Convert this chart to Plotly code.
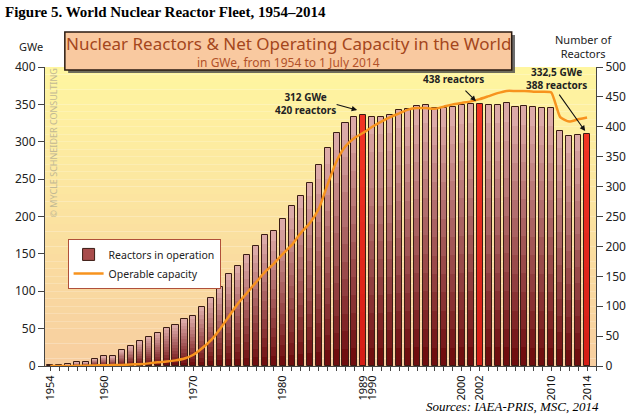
import plotly.graph_objects as go

years = list(range(1954, 2015))
reactors = [1, 2, 3, 6, 7, 12, 16, 16, 26, 33, 41, 48, 55, 64, 69, 78, 84, 99, 113, 132,
            154, 168, 186, 200, 219, 225, 245, 267, 284, 306, 336, 364, 389, 407, 416, 420,
            417, 417, 419, 428, 430, 434, 437, 431, 431, 433, 436, 438, 438, 437, 437, 439,
            433, 434, 433, 432, 432, 393, 384, 387, 388]
capacity = [0.005, 0.01, 0.06, 0.2, 0.5, 0.8, 1.0, 1.2, 1.5, 2.0, 2.5, 3.5, 5, 6, 7.5, 10,
            15, 24, 35, 50, 67, 84, 98, 112, 126, 137, 150, 162, 178, 191, 210, 243, 274,
            294, 305, 312, 320, 327, 333, 338, 343, 345, 345, 344, 347, 350, 352, 354, 357,
            361, 365, 368, 368, 368, 367, 367, 366, 333, 327, 330, 332.5]
highlight_years = [1989, 2002, 2014]
tick_years = [1954, 1960, 1970, 1980, 1989, 1990, 2000, 2002, 2010, 2014]

fig = go.Figure()

def lerp(c1, c2, t):
    return "rgb(%d,%d,%d)" % tuple(round(a + (b - a) * t) for a, b in zip(c1, c2))

# bars with vertical gradient built from stacked segments
N = 14
dark, light = (112, 14, 16), (220, 170, 168)
red_dark, red_light = (214, 30, 22), (242, 52, 36)
for i in range(N):
    t = i / (N - 1)
    cols = [lerp(red_dark, red_light, t) if y in highlight_years else lerp(dark, light, t)
            for y in years]
    fig.add_trace(go.Bar(
        x=years, y=[v / N for v in reactors], base=[v * i / N for v in reactors],
        width=0.68, marker=dict(color=cols, line=dict(width=0)),
        showlegend=False, hoverinfo="skip", yaxis="y"))
fig.add_trace(go.Bar(
    x=years, y=reactors, width=0.68,
    marker=dict(color="rgba(0,0,0,0)", line=dict(color="#3a1c14", width=1)),
    showlegend=False, yaxis="y"))
fig.add_trace(go.Bar(
    x=[None], y=[None], name="Reactors in operation",
    marker=dict(color="#a84c4c", line=dict(color="#3a1c14", width=1)), yaxis="y"))
fig.add_trace(go.Scatter(
    x=years, y=capacity, mode="lines", name="Operable capacity",
    line=dict(color="#f7931e", width=2.5, shape="spline", smoothing=0.5), yaxis="y2"))

# background gradient
shapes = []
S = 40
top, bot = (255, 246, 160), (247, 206, 160)
for k in range(S):
    shapes.append(dict(type="rect", xref="paper", yref="paper", x0=0, x1=1,
                       y0=k / S, y1=(k + 1) / S, layer="below", line=dict(width=0),
                       fillcolor=lerp(bot, top, (k + 0.5) / S)))
# title box with shadow
shapes.append(dict(type="rect", xref="paper", yref="paper", x0=0.042, x1=0.853,
                   y0=0.980, y1=1.107, fillcolor="#4a4a4a", line=dict(width=0), opacity=0.8))
shapes.append(dict(type="rect", xref="paper", yref="paper", x0=0.036, x1=0.847,
                   y0=0.990, y1=1.117, fillcolor="#f9c9a0", line=dict(color="#2a1a10", width=1.5)))

ann = []
F = "Noto Sans"
def txt(x, y, text, size, color="#222", family=F, xa="center", ya="middle", **kw):
    d = dict(xref="paper", yref="paper", x=x, y=y, text=text, showarrow=False,
             xanchor=xa, yanchor=ya, font=dict(family=family, size=size, color=color))
    d.update(kw)
    ann.append(d)

txt(0.4415, 1.08, "Nuclear Reactors &amp; Net Operating Capacity in the World", 17, "#a4461c")
txt(0.4415, 1.014, "in GWe, from 1954 to 1 July 2014", 12, "#b2522a")
txt(-0.0757, 1.184, "<b>Figure 5. World Nuclear Reactor Fleet, 1954–2014</b>", 15, "#000",
    family="Liberation Serif", xa="left")
txt(-0.025, 1.07, "GWe", 11)
txt(0.978, 1.07, "Number of<br>Reactors", 11)
txt(1.009, -0.137, "<i>Sources: IAEA-PRIS, MSC, 2014</i>", 13, "#000",
    family="Liberation Serif", xa="right")
txt(0.016, 0.747, "© MYCLE SCHNEIDER CONSULTING", 9, "#c2b994", textangle=-90)

# data callouts
for x, y, t in [(1982.5, 438.7, "<b>312 GWe<br>420 reactors</b>"),
                (1999.1, 479.5, "<b>438 reactors</b>"),
                (2010.56, 480.3, "<b>332,5 GWe<br>388 reactors</b>")]:
    ann.append(dict(x=x, y=y, text=t, showarrow=False, xanchor="center", yanchor="middle",
                    font=dict(family=F, size=10, color="#222")))
for hx, hy, ax, ay in [(1988.3, 428, -22, -6), (2001.58, 442.8, -12, -12), (2013.79, 392.8, -27, -38)]:
    ann.append(dict(x=hx, y=hy, ax=ax, ay=ay, text="", showarrow=True, arrowhead=2,
                    arrowsize=1, arrowwidth=1.1, arrowcolor="#111"))

fig.update_layout(
    width=638, height=418, autosize=False,
    margin=dict(l=45, r=38, t=67, b=52),
    paper_bgcolor="white", plot_bgcolor="rgba(0,0,0,0)",
    barmode="overlay", bargap=0,
    shapes=shapes, annotations=ann,
    font=dict(family=F, color="#222"),
    legend=dict(x=0.041, y=0.425, xanchor="left", yanchor="top", bgcolor="white",
                bordercolor="#b0503a", borderwidth=1, font=dict(size=10.5, color="#222"),
                tracegroupgap=0, itemwidth=30),
    xaxis=dict(range=[1953.41, 2015.0], tickmode="array", tickvals=tick_years,
               ticktext=[str(y) for y in tick_years], tickangle=-90, ticks="outside",
               ticklen=4, showline=True, linecolor="#444", showgrid=False, zeroline=False,
               tickfont=dict(size=11, color="#111"),
               minor=dict(tickmode="linear", tick0=1954, dtick=1, ticks="outside", ticklen=4, tickcolor="#444")),
    yaxis=dict(range=[0, 500], dtick=50, side="right", ticks="outside", ticklen=6,
               showline=True, linecolor="#444", showgrid=False, zeroline=False,
               tickfont=dict(size=12, color="#222")),
    yaxis2=dict(range=[0, 400], dtick=50, side="left", overlaying="y", ticks="outside", ticklen=6,
                showline=True, linecolor="#444", showgrid=False, zeroline=False,
                tickfont=dict(size=12, color="#222")),
)

fig.write_html("out.html", config={"displayModeBar": False},
               post_script="document.body.style.margin='0';")
